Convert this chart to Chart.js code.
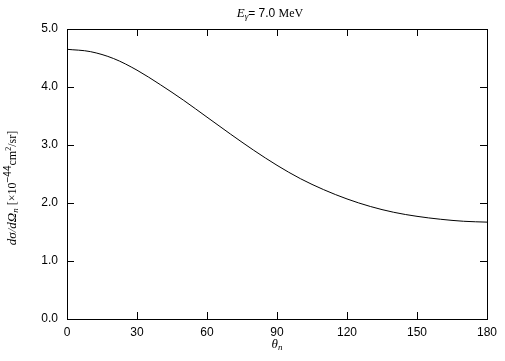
<!DOCTYPE html>
<html>
<head>
<meta charset="utf-8">
<script src="https://cdn.jsdelivr.net/npm/chart.js@4"></script>
<style>
  body { margin: 0; background: #fff; }
  canvas { display: block; }
</style>
</head>
<body>
<canvas id="chart" width="505" height="361"></canvas>
<script>
// valores
const angles = [0, 10, 20, 30, 40, 50, 60, 70, 80, 90, 100, 110, 120, 130, 140, 150, 160, 170, 180];
const crossSection = [4.65, 4.61, 4.49, 4.29, 4.04, 3.77, 3.48, 3.19, 2.91, 2.65, 2.42, 2.23, 2.07, 1.94, 1.84, 1.77, 1.72, 1.685, 1.67];
const xTicks = [0, 30, 60, 90, 120, 150, 180];
const yTicks = [0, 1, 2, 3, 4, 5];

const sans = '"Liberation Sans", Arial, sans-serif';
const serif = '"Liberation Serif", "Times New Roman", serif';

// desenha um texto com partes em fontes diferentes, centrado em (cx, cy)
function drawRich(ctx, parts, cx, cy, angle) {
    ctx.save();
    ctx.translate(cx, cy);
    ctx.rotate(angle || 0);
    let total = 0;
    parts.forEach(p => { ctx.font = p.font; p.w = ctx.measureText(p.text).width; total += p.w; });
    let x = -total / 2;
    ctx.fillStyle = '#000';
    ctx.textBaseline = 'middle';
    ctx.textAlign = 'left';
    parts.forEach(p => {
        ctx.font = p.font;
        ctx.fillText(p.text, x, p.dy || 0);
        x += p.w;
    });
    ctx.restore();
}

// moldura e marcas para dentro nos quatro lados
const framePlugin = {
    id: 'frame',
    afterDraw(chart) {
        const { ctx, chartArea: a, scales } = chart;
        const len = 7;
        ctx.save();
        ctx.strokeStyle = '#000';
        ctx.lineWidth = 1;
        ctx.strokeRect(Math.round(a.left) + 0.5, Math.round(a.top) + 0.5,
            Math.round(a.right - a.left), Math.round(a.bottom - a.top));
        ctx.beginPath();
        xTicks.forEach(v => {
            const px = Math.round(scales.x.getPixelForValue(v)) + 0.5;
            ctx.moveTo(px, a.bottom); ctx.lineTo(px, a.bottom - len);
            ctx.moveTo(px, a.top); ctx.lineTo(px, a.top + len);
        });
        yTicks.forEach(v => {
            const py = Math.round(scales.y.getPixelForValue(v)) + 0.5;
            ctx.moveTo(a.left, py); ctx.lineTo(a.left + len, py);
            ctx.moveTo(a.right, py); ctx.lineTo(a.right - len, py);
        });
        ctx.stroke();

        // título e rótulos dos eixos
        drawRich(ctx, [
            { text: 'E', font: 'italic 13px ' + serif },
            { text: 'γ', font: 'italic 9px ' + serif, dy: 3 },
            { text: '= 7.0 ', font: '12px ' + sans },
            { text: 'MeV', font: '12px ' + serif }
        ], 270, 14);
        drawRich(ctx, [
            { text: 'θ', font: 'italic 13px ' + serif },
            { text: 'n', font: 'italic 9px ' + serif, dy: 3 }
        ], 277, 345);
        drawRich(ctx, [
            { text: 'dσ/dΩ', font: 'italic 13px ' + serif },
            { text: 'n', font: 'italic 9px ' + serif, dy: 3 },
            { text: ' [×10', font: '12px ' + serif },
            { text: '−44', font: '10px ' + sans, dy: -5 },
            { text: 'cm', font: '12px ' + serif },
            { text: '2', font: '8px ' + serif, dy: -4 },
            { text: '/sr]', font: '12px ' + serif }
        ], 13, 188, -Math.PI / 2);
        ctx.restore();
    }
};

new Chart(document.getElementById('chart'), {
    type: 'line',
    data: {
        datasets: [{
            data: angles.map((a, i) => ({ x: a, y: crossSection[i] })),
            borderColor: '#000',
            borderWidth: 1,
            pointRadius: 0,
            fill: false,
            cubicInterpolationMode: 'monotone'
        }]
    },
    options: {
        responsive: false,
        animation: false,
        layout: { padding: { top: 29, right: 18, left: 0, bottom: 0 } },
        plugins: { legend: { display: false }, tooltip: { enabled: false } },
        scales: {
            x: {
                type: 'linear',
                min: 0,
                max: 180,
                afterBuildTicks: s => { s.ticks = xTicks.map(v => ({ value: v })); },
                afterFit: s => { s.height = 42; },
                ticks: { color: '#000', font: { family: sans, size: 12 }, padding: 6, maxRotation: 0 },
                grid: { display: false, drawTicks: false },
                border: { display: false }
            },
            y: {
                min: 0,
                max: 5,
                afterBuildTicks: s => { s.ticks = yTicks.map(v => ({ value: v })); },
                afterFit: s => { s.width = 67; },
                ticks: { color: '#000', font: { family: sans, size: 12 }, padding: 9, callback: v => v.toFixed(1) },
                grid: { display: false, drawTicks: false },
                border: { display: false }
            }
        }
    },
    plugins: [framePlugin]
});
</script>
</body>
</html>
